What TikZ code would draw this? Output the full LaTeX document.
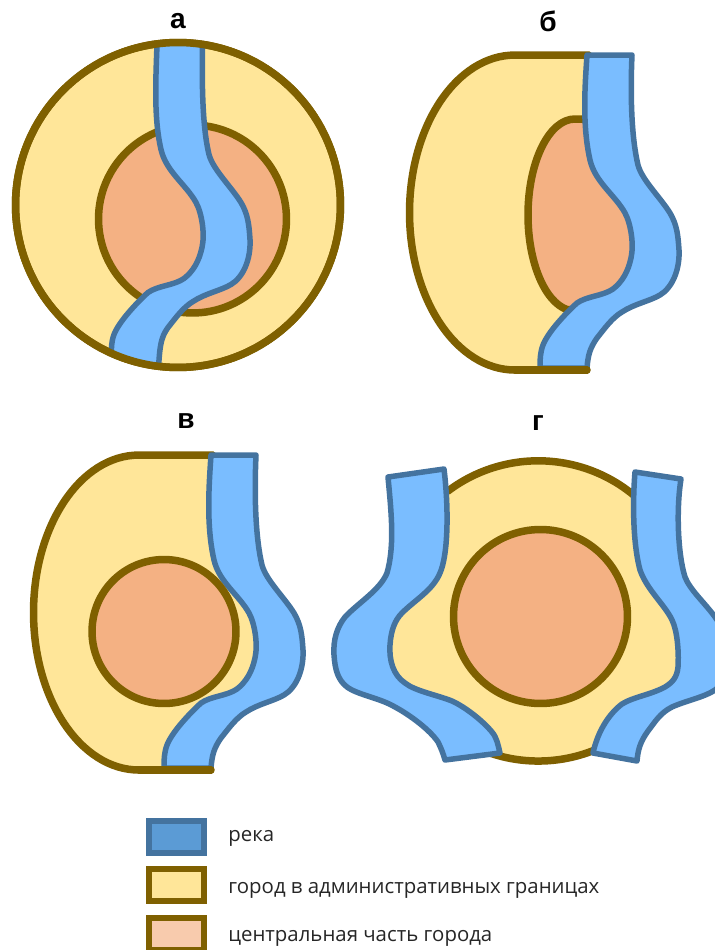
\documentclass[tikz,border=0pt]{standalone}
\usepackage{fontspec}
\setmainfont{Open Sans}
\newfontfamily\labelfont{Liberation Sans}
\definecolor{cityfill}{HTML}{FFE699}
\definecolor{cityedge}{HTML}{7F6000}
\definecolor{corefill}{HTML}{F4B183}
\definecolor{corelight}{HTML}{F8CBAD}
\definecolor{riverfill}{HTML}{7ABDFF}
\definecolor{riveredge}{HTML}{44739F}
\definecolor{riverlight}{HTML}{5B9BD5}
% контур реки: #1 верхний край, #2 нижний край
\newcommand{\riverpath}[2]{(587,#1) .. controls (585,85) and (582,125) .. (590,160)
  .. controls (595,182) and (615,195) .. (625,213) .. controls (631,224) and (634,245) .. (631,258)
  .. controls (628,272) and (622,282) .. (613,289) .. controls (603,296) and (587,296) .. (577,303)
  .. controls (566,313) and (548,332) .. (543,345) .. controls (540,353) and (540,360) .. (540,#2)
  -- (587,#2) .. controls (588,355) and (590,348) .. (597,338) .. controls (605,328) and (612,318) .. (622,312)
  .. controls (634,304) and (650,301) .. (660,295) .. controls (672,288) and (680,270) .. (679,250)
  .. controls (678,235) and (677,225) .. (670,213) .. controls (660,197) and (642,180) .. (638,165)
  .. controls (632,140) and (630,100) .. (632,#1) -- cycle}
\newcommand{\citypath}{(588,370) -- (515,370) arc[x radius=2.11cm, y radius=3.15cm, start angle=270, end angle=90]
  -- (588,55) -- (610,72) -- (610,170) -- (650,240) -- (645,285) -- (600,310) -- (570,370) -- cycle}
\begin{document}
\begin{tikzpicture}[x=0.02cm, y=-0.02cm,
    city/.style={draw=cityedge, fill=cityfill, line width=0.15cm},
    core/.style={draw=cityedge, fill=corefill, line width=0.15cm},
    border/.style={draw=cityedge, line width=0.15cm, line cap=round},
    river/.style={draw=riveredge, fill=riverfill, line width=0.11cm, line join=round},
    title/.style={font=\labelfont\bfseries\fontsize{16}{18}\selectfont},
    swatch/.style={minimum width=1.12cm, minimum height=0.64cm, line width=0.12cm, inner sep=0pt},
    entry/.style={anchor=west, inner sep=0pt, text=black!85, font=\fontsize{11.6}{14}\selectfont}]
    \useasboundingbox (0,0) rectangle (715,950);
    % а: круглый город
    \draw[city] (178,205) circle[radius=3.25cm];
    \draw[core] (192.5,219) circle[radius=1.88cm];
    \begin{scope}
      \clip (178,205) circle[radius=3.25cm];
      \begin{scope}[shift={(-429,-10.5)}]
        \draw[river] \riverpath{30}{395};
      \end{scope}
    \end{scope}
    \draw[border] (178,205) circle[radius=3.25cm];
    \node[title] (labela) at (178,21) {а};
    % б: река по краю города
    \draw[city] \citypath;
    \draw[core] (600,119) -- (575,119) arc[x radius=0.94cm, y radius=1.92cm, start angle=90, end angle=260]
      -- (600,310) -- (645,285) -- (650,230) -- (620,180) -- cycle;
    \draw[river] \riverpath{55}{368};
    \draw[border] (515,370) -- (587,370);
    \node[title] (labelb) at (548,21) {б};
    % в: центр не задевает реку
    \begin{scope}[shift={(-376,400)}]
      \draw[city] \citypath;
      \draw[river] \riverpath{55}{368};
      \draw[border] (515,370) -- (587,370);
    \end{scope}
    \draw[core] (164,631.5) circle[radius=1.44cm];
    \node[title] (labelc) at (186,421) {в};
    % г: две реки
    \fill[cityfill] (538,611) circle[radius=3cm];
    \fill[cityfill] (400,600) -- (380,650) -- (405,695) -- (440,690) -- (440,600) -- cycle;
    \draw[border] (448,491) arc[radius=3cm, start angle=127, end angle=50];
    \draw[border] (487,752) arc[radius=3cm, start angle=250, end angle=300];
    \draw[core] (540.5,616.5) circle[radius=1.74cm];
    \draw[river] (388,477) .. controls (391,510) and (395,545) .. (387,573) .. controls (380,590) and (358,603) .. (345,617)
      .. controls (337,627) and (333,640) .. (334,655) .. controls (335,670) and (338,680) .. (347,687)
      .. controls (358,695) and (380,698) .. (395,707) .. controls (410,715) and (430,730) .. (438,742)
      .. controls (441,748) and (443,753) .. (445,760) -- (500,753) .. controls (498,745) and (497,738) .. (492,732)
      .. controls (482,720) and (465,707) .. (452,701) .. controls (437,695) and (415,691) .. (405,683)
      .. controls (393,675) and (389,660) .. (390,645) .. controls (391,630) and (395,620) .. (402,613)
      .. controls (415,600) and (433,590) .. (440,573) .. controls (448,555) and (449,510) .. (444,469) -- cycle;
    \draw[river] (635,472) .. controls (633,495) and (632,540) .. (640,570) .. controls (647,590) and (665,605) .. (672,620)
      .. controls (677,630) and (679,650) .. (678,667) .. controls (677,677) and (673,682) .. (665,687)
      .. controls (650,695) and (633,697) .. (622,704) .. controls (610,713) and (598,730) .. (593,753)
      -- (637,761) .. controls (638,750) and (640,742) .. (648,731) .. controls (655,722) and (660,713) .. (672,707)
      .. controls (685,701) and (705,697) .. (715,690) .. controls (726,683) and (730,665) .. (728,650)
      .. controls (727,635) and (722,627) .. (715,617) .. controls (705,603) and (690,590) .. (685,577)
      .. controls (678,555) and (676,510) .. (681,479) -- cycle;
    \node[title] (labeld) at (538,423) {г};
    % условные обозначения
    \node[swatch, draw=riveredge, fill=riverlight] (keyriver) at (176.5,836.5) {};
    \node[swatch, draw=cityedge, fill=cityfill] (keycity) at (176.5,885) {};
    \node[swatch, draw=cityedge, fill=corelight] (keycore) at (176.5,933.5) {};
    \node[entry] (textriver) at (228,838) {река};
    \node[entry] (textcity) at (228,890) {город в административных границах};
    \node[entry] (textcore) at (228,938) {центральная часть города};
\end{tikzpicture}
\end{document}
